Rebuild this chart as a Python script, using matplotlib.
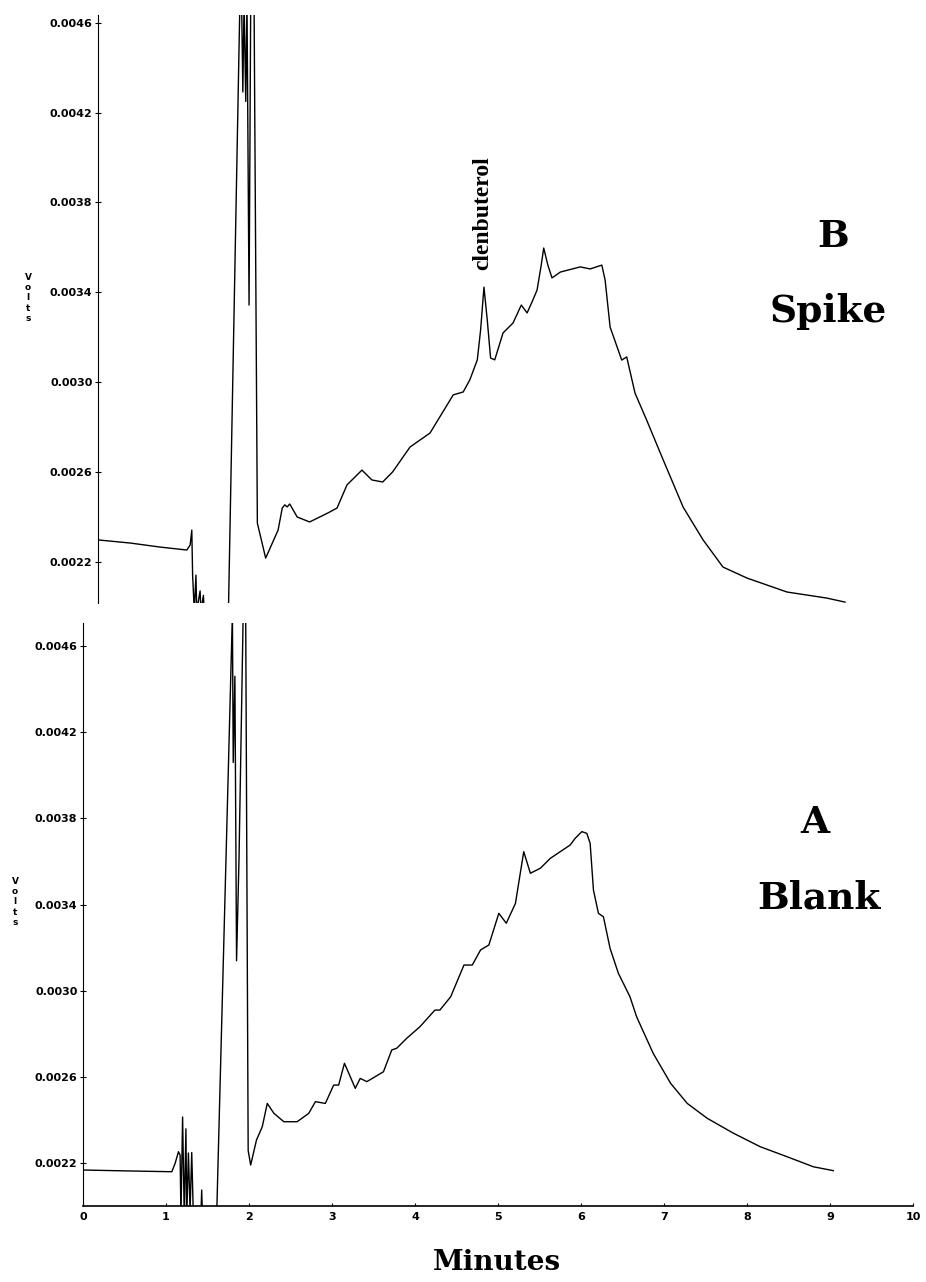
import matplotlib
matplotlib.use("Agg")
import matplotlib.pyplot as plt

# chromatogram B (spiked sample), minutes / volts
spike_t = [0.00, 0.39, 0.75, 1.07, 1.11, 1.13, 1.14, 1.16, 1.18, 1.19, 1.23, 1.24, 1.27, 1.28,
           1.41, 1.57, 1.71, 1.73, 1.745, 1.76, 1.78, 1.795, 1.82, 1.84, 1.88, 1.92,
           2.02, 2.17, 2.22, 2.25, 2.28, 2.31, 2.40, 2.55, 2.77, 2.88, 3.00, 3.18, 3.30,
           3.43, 3.55, 3.76, 4.00, 4.28, 4.40, 4.48, 4.57, 4.61, 4.65, 4.69, 4.73, 4.78,
           4.88, 5.00, 5.10, 5.17, 5.24, 5.29, 5.34, 5.37, 5.42, 5.47, 5.57, 5.81, 5.93,
           6.07, 6.11, 6.17, 6.31, 6.37, 6.47, 6.61, 6.81, 7.05, 7.29, 7.53, 7.82, 8.30,
           8.78, 9.00]
spike_v = [0.002297, 0.002283, 0.002265, 0.002252, 0.002274, 0.002341, 0.002140, 0.001980,
           0.002140, 0.001980, 0.002070, 0.001980, 0.002050, 0.001980,
           0.001950, 0.001950, 0.004700, 0.004700, 0.004292, 0.004700, 0.004250, 0.004700,
           0.003343, 0.004700, 0.004700, 0.002372,
           0.002216, 0.002341, 0.002439, 0.002453, 0.002444, 0.002457, 0.002399, 0.002377,
           0.002417, 0.002439, 0.002542, 0.002608, 0.002564, 0.002555, 0.002600, 0.002711,
           0.002773, 0.002943, 0.002956, 0.003010, 0.003099, 0.003233, 0.003423, 0.003276,
           0.003107, 0.003099, 0.003219, 0.003263, 0.003343, 0.003308, 0.003366, 0.003410,
           0.003521, 0.003597, 0.003521, 0.003464, 0.003490, 0.003513, 0.003504, 0.003521,
           0.003454, 0.003245, 0.003098, 0.003112, 0.002951, 0.002831, 0.002653, 0.002443,
           0.002297, 0.002176, 0.002127, 0.002065, 0.002038, 0.002020]

# chromatogram A (blank)
blank_t = [0.00, 0.50, 1.07, 1.11, 1.15, 1.17, 1.18, 1.20, 1.22, 1.24, 1.25, 1.27, 1.29,
           1.31, 1.33, 1.42, 1.43, 1.44, 1.61, 1.80, 1.81, 1.83, 1.85, 1.88, 1.93, 1.96,
           1.99, 2.02, 2.09, 2.16, 2.22, 2.30, 2.42, 2.58, 2.72, 2.80, 2.92, 3.02, 3.08,
           3.15, 3.22, 3.28, 3.34, 3.42, 3.62, 3.72, 3.78, 3.90, 4.06, 4.24, 4.30, 4.43,
           4.59, 4.69, 4.79, 4.89, 5.01, 5.10, 5.21, 5.31, 5.39, 5.51, 5.63, 5.87, 5.93,
           6.01, 6.07, 6.11, 6.15, 6.21, 6.27, 6.35, 6.45, 6.59, 6.67, 6.87, 7.08, 7.28,
           7.52, 7.84, 8.16, 8.48, 8.80, 9.04]
blank_v = [0.002169, 0.002165, 0.002161, 0.002200, 0.002254, 0.002238, 0.001950, 0.002415,
           0.001950, 0.002360, 0.001950, 0.002248, 0.001980, 0.002250, 0.001950, 0.001950,
           0.002076, 0.001950, 0.001950, 0.004750, 0.004060, 0.004460, 0.003140, 0.003620,
           0.004750, 0.004750, 0.002260, 0.002192, 0.002308, 0.002370, 0.002478, 0.002432,
           0.002393, 0.002393, 0.002432, 0.002486, 0.002478, 0.002563, 0.002563, 0.002664,
           0.002602, 0.002548, 0.002594, 0.002579, 0.002625, 0.002726, 0.002734, 0.002780,
           0.002834, 0.002911, 0.002911, 0.002973, 0.003120, 0.003120, 0.003190, 0.003213,
           0.003360, 0.003314, 0.003406, 0.003646, 0.003546, 0.003569, 0.003615, 0.003677,
           0.003708, 0.003739, 0.003731, 0.003685, 0.003468, 0.003360, 0.003344, 0.003198,
           0.003082, 0.002973, 0.002880, 0.002710, 0.002571, 0.002478, 0.002409, 0.002339,
           0.002277, 0.002231, 0.002184, 0.002166]

volt_ticks = [0.0022, 0.0026, 0.0030, 0.0034, 0.0038, 0.0042, 0.0046]
minute_ticks = [0, 1, 2, 3, 4, 5, 6, 7, 8, 9, 10]

W, H = 926, 1282
fig = plt.figure(figsize=(W / 100, H / 100), dpi=100)

# the two panels of the scan are shifted a bit against each other
ax_b = fig.add_axes([98 / W, 1 - 603 / H, 830 / W, 588 / H])
ax_a = fig.add_axes([83 / W, 1 - 1206 / H, 830 / W, 583 / H])

ax_b.plot(spike_t, spike_v, color='black', lw=1.0)
ax_a.plot(blank_t, blank_v, color='black', lw=1.0)

ax_b.set_ylim(0.002016, 0.004635)
ax_a.set_ylim(0.002002, 0.004707)

for ax in (ax_b, ax_a):
    ax.set_xlim(0, 10)
    ax.set_yticks(volt_ticks)
    ax.set_yticklabels(['%.4f' % v for v in volt_ticks])
    ax.spines['top'].set_visible(False)
    ax.spines['right'].set_visible(False)
    ax.spines['left'].set_linewidth(0.8)
    ax.tick_params(axis='y', direction='inout', length=5, width=0.8, labelsize=8, pad=1.5)
    for lbl in ax.get_yticklabels():
        lbl.set_fontweight('bold')

ax_b.spines['bottom'].set_visible(False)
ax_b.tick_params(axis='x', bottom=False, labelbottom=False)

ax_a.spines['bottom'].set_linewidth(1.2)
ax_a.set_xticks(minute_ticks)
ax_a.tick_params(axis='x', direction='in', length=2, width=0.8, labelsize=8, pad=4)
for lbl in ax_a.get_xticklabels():
    lbl.set_fontweight('bold')

# axis titles
fig.text(28 / W, 1 - 298 / H, "V\no\nl\nt\ns", ha='center', va='center',
         fontsize=6.5, fontweight='bold', linespacing=1.2)
fig.text(15 / W, 1 - 902 / H, "V\no\nl\nt\ns", ha='center', va='center',
         fontsize=6.5, fontweight='bold', linespacing=1.2)
fig.text(497 / W, 1 - 1270 / H, "Minutes", ha='center', va='baseline',
         fontsize=20, family='DejaVu Serif', fontweight='bold')

# panel labels
serif = dict(family='DejaVu Serif', fontweight='bold', fontsize=27, ha='center', va='baseline')
ax_b.text(8.86, 0.003603, "B", **serif)
ax_b.text(8.80, 0.003269, "Spike", **serif)
ax_a.text(8.82, 0.003731, "A", **serif)
ax_a.text(8.87, 0.003383, "Blank", **serif)

ax_b.text(4.64, 0.003499, "clenbuterol", rotation=90, ha='center', va='bottom',
          family='Liberation Serif', fontweight='bold', fontsize=17)

fig.savefig("out.png", dpi=100)
